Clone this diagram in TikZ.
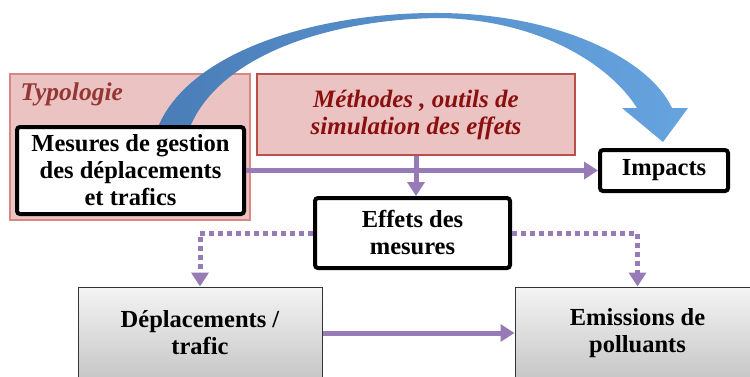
\documentclass[tikz,border=0pt]{standalone}
\usepackage{fontspec}
\setmainfont{Liberation Serif}
\usetikzlibrary{arrows.meta}
\definecolor{pinkfill}{HTML}{EBC3C2}
\definecolor{pinkline}{HTML}{D98783}
\definecolor{redline}{HTML}{B9504C}
\definecolor{typored}{HTML}{943634}
\definecolor{methred}{HTML}{8A0F0F}
\definecolor{flowpurple}{HTML}{967BB6}
\definecolor{greytop}{HTML}{F4F4F4}
\definecolor{greybot}{HTML}{C6C6C6}
\definecolor{greyline}{HTML}{333333}
\definecolor{arrowdark}{HTML}{4A7DB8}
\definecolor{arrowlight}{HTML}{66A4DF}
\tikzset{
  every picture/.style={font={\bfseries\fontsize{24.5}{27}\selectfont}, >={Triangle[width=17pt,length=14pt]}},
  pinkbox/.style={rectangle, fill=pinkfill, line width=1.5pt, inner sep=0pt},
  whitebox/.style={rectangle, draw=black, line width=4pt, rounded corners=3pt,
                   fill=white, align=center, inner sep=0pt},
  greybox/.style={rectangle, draw=greyline, line width=1pt, top color=greytop,
                  bottom color=greybot, align=center, inner sep=0pt},
  flow/.style={draw=flowpurple, line width=5pt, ->},
  flowdot/.style={flow, dash pattern=on 5pt off 4pt}}

\begin{document}
\begin{tikzpicture}[x=1pt, y=-1pt]
    \useasboundingbox (0,0) rectangle (750,376);
    \clip (0,0) rectangle (750,376);

    \node (typo) [pinkbox, draw=pinkline, minimum width=240pt, minimum height=146pt] at (130,147) {};
    \node (typolbl) [anchor=west, text=typored, font={\bfseries\itshape\fontsize{25.5}{27}\selectfont}] at (17,94) {Typologie};
    \node (methodes) [pinkbox, draw=redline, minimum width=318pt, minimum height=81pt,
                      align=center, text=methred, font={\bfseries\itshape\fontsize{25}{27}\selectfont}]
          at (416,114.5) {M\'ethodes , outils de\\simulation des effets};

    \shade[left color=arrowdark, right color=arrowlight]
      (158,127) .. controls (190,50) and (320,12) .. (440,13)
      .. controls (560,14) and (650,60) .. (672,108)
      -- (688,108) -- (663,142) -- (622,108) -- (637,108)
      .. controls (610,65) and (540,20) .. (440,18)
      .. controls (330,19) and (220,55) .. (190,127) -- cycle;

    \node (mesures) [whitebox, minimum width=227pt, minimum height=87pt] at (130.5,170.5)
          {Mesures de gestion\\des d\'eplacements\\et trafics};
    \node (impacts) [whitebox, minimum width=128pt, minimum height=41pt] at (664,170.5) {Impacts};
    \node (effets) [whitebox, minimum width=195pt, minimum height=70pt] at (412.5,233)
          {Effets des\\mesures};
    \node (depl) [greybox, minimum width=244pt, minimum height=92pt] at (200,333)
          {D\'eplacements /\\trafic};
    \node (emis) [greybox, minimum width=245pt, minimum height=92pt] at (637.5,333)
          {Emissions de\\polluants};

    \draw[flow] (mesures.east) -- (impacts.west);
    \draw[flow] (methodes.south -| 416,0) -- (effets.north -| 416,0);
    \draw[flowdot] (effets.west) -| (depl.north);
    \draw[flowdot] (effets.east) -| (emis.north);
    \draw[flow] (depl.east) -- (emis.west);
  \end{tikzpicture}
\end{document}
